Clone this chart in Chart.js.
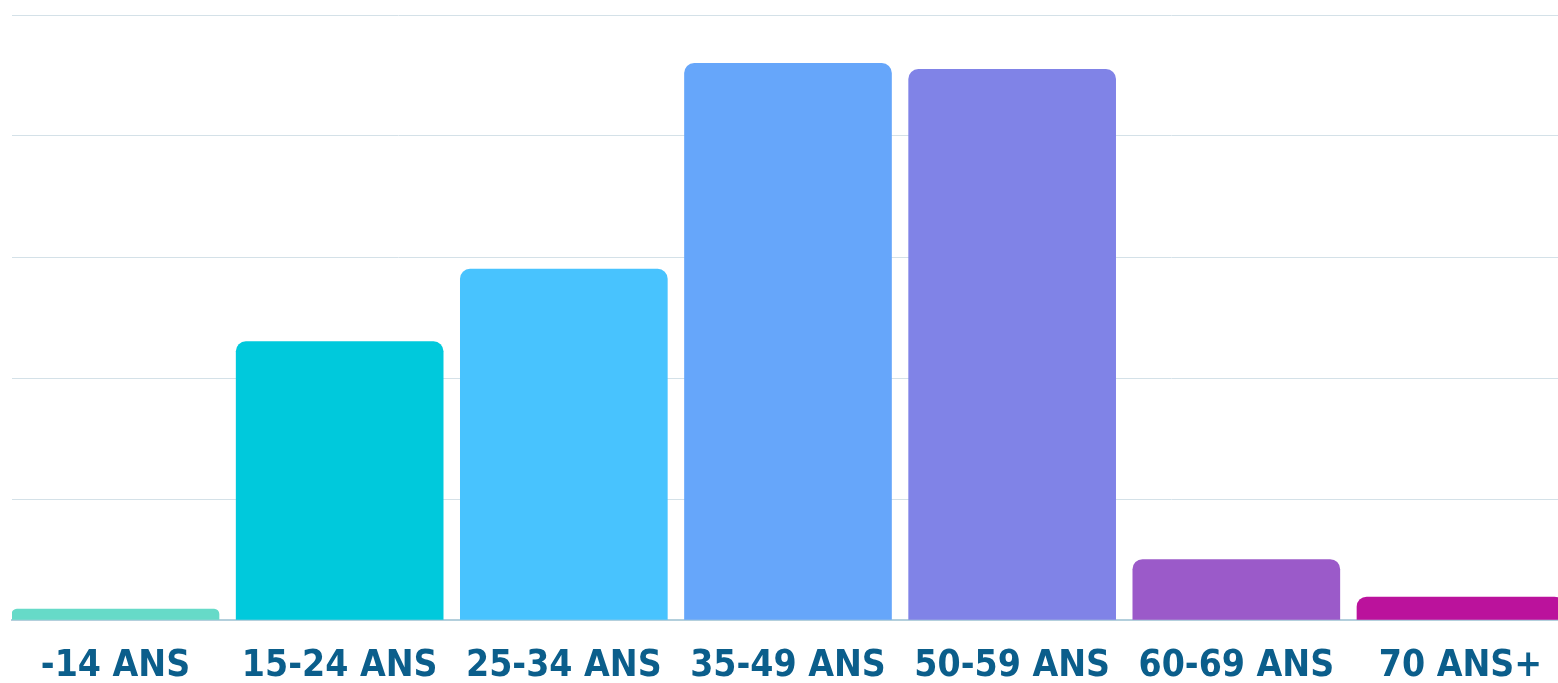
<!DOCTYPE html>
<html>
<head>
<meta charset="utf-8">
<title>Répartition par âge</title>
<script src="https://cdn.jsdelivr.net/npm/chart.js@4.4.1/dist/chart.umd.min.js"></script>
<style>
  html, body { margin: 0; padding: 0; background: #fff; overflow: hidden; }
  #wrap { position: relative; width: 1558px; height: 683px; }
</style>
</head>
<body>
<div id="wrap"><canvas id="chart"></canvas></div>
<script>
// --- Data ---
const ageLabels = ['-14 ANS', '15-24 ANS', '25-34 ANS', '35-49 ANS', '50-59 ANS', '60-69 ANS', '70 ANS+'];
const shares = [0.9, 23, 29, 46, 45.5, 5, 1.9];
const barColors = ['#66dac8', '#00c9dc', '#48c3fe', '#66a6fa', '#8083e7', '#9b5ac9', '#bb129c'];
const yMax = 50;
const yStep = 10;

// bars sit on a linear x axis so the first bar can start right at the left edge
const points = shares.map((v, i) => ({ x: i, y: v }));

const ctx = document.getElementById('chart').getContext('2d');
new Chart(ctx, {
  type: 'bar',
  data: {
    datasets: [{
      data: points,
      backgroundColor: barColors,
      borderRadius: 10,
      borderSkipped: 'bottom',
      barThickness: 207
    }]
  },
  options: {
    responsive: true,
    maintainAspectRatio: false,
    animation: false,
    // label box is tall on purpose (centres the text lower), bottom padding eats the excess
    layout: { padding: { top: 15, left: 12, right: 0, bottom: -29 } },
    plugins: { legend: { display: false }, tooltip: { enabled: false } },
    scales: {
      x: {
        type: 'linear',
        offset: false,
        min: -0.4617,
        max: 6.435,
        afterBuildTicks: axis => {
          axis.ticks = ageLabels.map((l, i) => ({ value: i }));
        },
        grid: { display: false, drawTicks: false },
        border: { display: true, color: '#b3cfdc', width: 2 },
        ticks: {
          autoSkip: false,
          maxRotation: 0,
          padding: 0,
          color: '#0b5e8b',
          font: { family: "'DejaVu Sans Condensed', sans-serif", weight: 'bold', size: 37, lineHeight: '92px' },
          callback: v => ageLabels[v]
        }
      },
      y: {
        min: 0,
        max: yMax,
        ticks: { display: false, stepSize: yStep },
        grid: { color: '#d4e1e8', lineWidth: 1, drawTicks: false },
        border: { display: false }
      }
    }
  }
});
</script>
</body>
</html>
